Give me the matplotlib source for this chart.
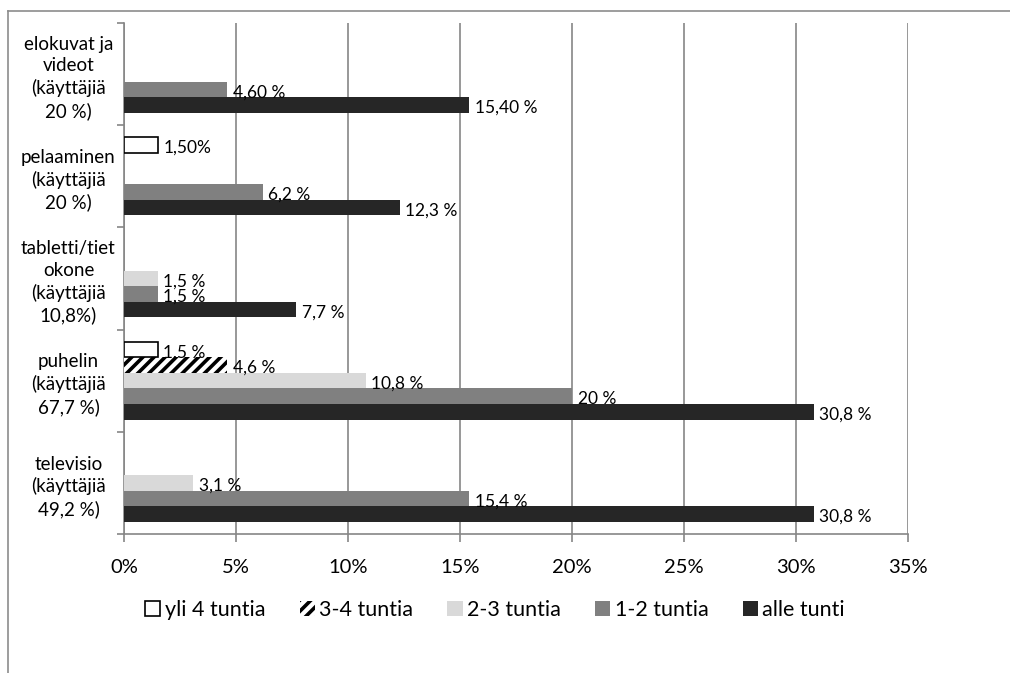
import numpy as np
import matplotlib.pyplot as plt
from matplotlib.patches import Patch
from matplotlib.lines import Line2D

plt.rcParams['font.family'] = ['Lato', 'DejaVu Sans']
plt.rcParams['hatch.linewidth'] = 2.6

# categories from bottom to top
categories = ['televisio\n(käyttäjiä\n49,2 %)',
              'puhelin\n(käyttäjiä\n67,7 %)',
              'tabletti/tiet\nokone\n(käyttäjiä\n10,8%)',
              'pelaaminen\n(käyttäjiä\n20 %)',
              'elokuvat ja\nvideot\n(käyttäjiä\n20 %)']

# series, drawn from the bottom of each group upwards
series = ['alle tunti', '1-2 tuntia', '2-3 tuntia', '3-4 tuntia', 'yli 4 tuntia']
alle_tunti = [30.8, 30.8, 7.7, 12.3, 15.4]
tuntia_1_2 = [15.4, 20.0, 1.5, 6.2, 4.6]
tuntia_2_3 = [3.1, 10.8, 1.5, 0, 0]
tuntia_3_4 = [0, 4.6, 0, 0, 0]
yli_4 = [0, 1.5, 0, 1.5, 0]
values = [alle_tunti, tuntia_1_2, tuntia_2_3, tuntia_3_4, yli_4]

# value labels as printed next to each bar ('' = no label)
labels = [
    ['30,8 %', '30,8 %', '7,7 %', '12,3 %', '15,40 %'],
    ['15,4 %', '20 %', '1,5 %', '6,2 %', '4,60 %'],
    ['3,1 %', '10,8 %', '1,5 %', '', ''],
    ['', '4,6 %', '', '', ''],
    ['', '1,5 %', '', '1,50%', ''],
]

xticks = [0, 5, 10, 15, 20, 25, 30, 35]

colors = ['#262626', '#808080', '#d9d9d9', 'white', 'white']
edges = ['#262626', '#808080', '#d9d9d9', 'black', 'black']
widths = [0, 0, 0, 0, 1.2]
hatches = [None, None, None, '///', None]

fig = plt.figure(figsize=(10.1, 6.73), dpi=100)
ax = fig.add_axes([124 / 1010, 139 / 673, 784 / 1010, 511 / 673])

# outer frame (left and top edges only)
fig.add_artist(Line2D([8 / 1010, 8 / 1010], [0, 1 - 11 / 673], color='#8c8c8c', lw=1.2))
fig.add_artist(Line2D([8 / 1010, 1], [1 - 11 / 673, 1 - 11 / 673], color='#8c8c8c', lw=1.2))

y = np.arange(len(categories))
h = 0.152
for i, s in enumerate(series):
    pos = y + (i - 2) * h
    v = np.array(values[i], dtype=float)
    keep = v > 0
    ax.barh(pos[keep], v[keep], height=h, color=colors[i], edgecolor=edges[i],
            hatch=hatches[i], linewidth=widths[i], zorder=3)
    for j, val in enumerate(values[i]):
        if labels[i][j]:
            ax.annotate(labels[i][j], (val, pos[j]), xytext=(4, -2), textcoords='offset points',
                        va='center', ha='left', fontsize=12.5, zorder=4)

ax.set_xlim(0, 35)
ax.set_ylim(-0.5, len(categories) - 0.5)
ax.set_xticks(xticks)
ax.set_xticklabels([f'{t}%' for t in xticks], fontsize=14.5)
ax.set_yticks(np.arange(-0.5, len(categories)), minor=False)
ax.set_yticklabels([])
ax.set_yticks(y, minor=True)
ax.set_yticklabels(categories, minor=True, fontsize=13.5, ha='center', linespacing=1.32)
ax.tick_params(axis='y', which='minor', length=0, pad=40)
ax.tick_params(axis='y', which='major', length=5, color='#868686', width=1.2)
ax.tick_params(axis='x', length=6, color='#868686', width=1.2, pad=12)
ax.grid(axis='x', color='#868686', lw=1.2, zorder=0)
for side in ['top', 'right']:
    ax.spines[side].set_visible(False)
for side in ['left', 'bottom']:
    ax.spines[side].set_color('#868686')
    ax.spines[side].set_linewidth(1.2)

order = [4, 3, 2, 1, 0]
handles = [Patch(facecolor=colors[i], edgecolor=edges[i], hatch=hatches[i],
                 linewidth=widths[i]) for i in order]
fig.legend(handles, [series[i] for i in order], loc='center', bbox_to_anchor=(495 / 1010, 1 - 610 / 673),
           ncol=5, frameon=False, fontsize=15.5, handlelength=0.7, handleheight=0.7,
           handletextpad=0.2, columnspacing=1.6)

fig.savefig('out.png', dpi=100)
